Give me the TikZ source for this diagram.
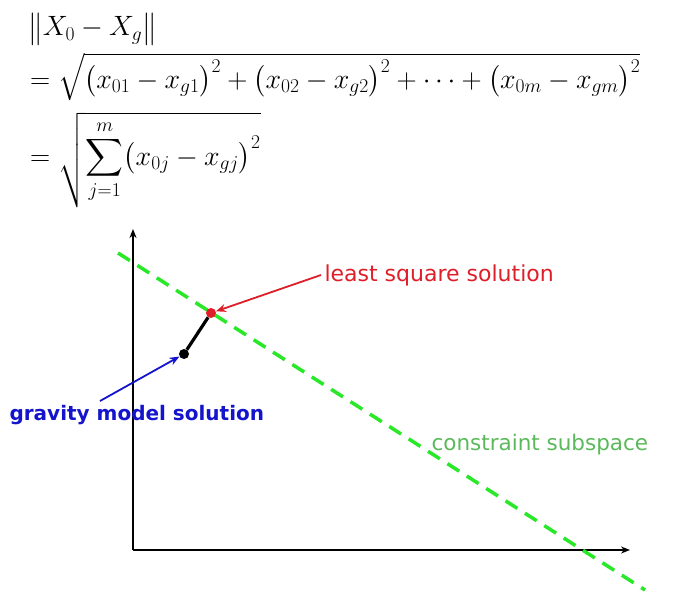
\RequirePackage{fix-cm}
\documentclass[tikz,border=0pt]{standalone}
\usepackage{amsmath}
\usepackage{fontspec}
\setmainfont{DejaVu Sans}
\usepackage{tikz}
\usetikzlibrary{
  arrows.meta,
  positioning,
  calc
}
\usepackage{xcolor}
\definecolor{lsqred}{RGB}{222,30,40}
\definecolor{gravblue}{RGB}{20,20,205}
\definecolor{subgreen}{RGB}{40,232,40}
\definecolor{labgreen}{RGB}{90,185,90}

\tikzset{
  axis/.style={line width=1.5pt, -{Stealth[length=9pt,width=7pt]}},
  soldot/.style={circle, inner sep=0pt, minimum size=10pt},
  callout/.style={line width=1.8pt, -{Stealth[length=10pt,width=8pt]}},
  eqline/.style={anchor=west, inner sep=0pt, font=\fontsize{26.5}{31}\selectfont}
}

\begin{document}
\begin{tikzpicture}[x=1pt, y=-1pt]
  \useasboundingbox (0,0) rectangle (678,597);
  % distance formula
  \node[eqline] (eqnorm) at (28,29) {\scalebox{1.055}{$\bigl\|X_0-X_g\bigr\|$}};
  \node[eqline] (eqexpand) at (30,77)
    {\scalebox{1.055}{$=\sqrt{\bigl(x_{01}-x_{g1}\bigr)^2+\bigl(x_{02}-x_{g2}\bigr)^2+\cdots+\bigl(x_{0m}-x_{gm}\bigr)^2}$}};
  \node[eqline] (eqsum) at (30,160)
    {\scalebox{1.055}{$=\sqrt{\displaystyle\sum_{j=1}^{m}\bigl(x_{0j}-x_{gj}\bigr)^2}$}};

  % axes
  \coordinate (origin) at (133,550);
  \coordinate (ytip) at (133,229);
  \coordinate (xtip) at (630,550);
  \draw[axis] (origin) -- (ytip);
  \draw[axis] (origin) -- (xtip);

  % constraint subspace
  \coordinate (subA) at (118,253);
  \coordinate (subB) at (645,590);
  \draw[subgreen, line width=3.5pt, dash pattern=on 14pt off 9pt] (subA) -- (subB);

  % solutions
  \node[soldot, fill=black] (gms) at (184,354) {};
  \node[soldot, fill=lsqred] (lss) at (211,313) {};
  \draw[line width=3.2pt] (gms) -- (lss);

  % labels
  \node[anchor=west, text=lsqred, font=\fontsize{22}{26}\selectfont] (lsslabel) at (321,275) {least square solution};
  \node[anchor=west, text=gravblue, font=\fontsize{20}{24}\selectfont\bfseries] (gmslabel) at (6,415) {gravity model solution};
  \node[anchor=west, text=labgreen, font=\fontsize{21.5}{25}\selectfont] (sublabel) at (428,445) {constraint subspace};

  \coordinate (gmsstart) at (100,401);
  \draw[callout, lsqred] (lsslabel.west) -- (lss);
  \draw[callout, gravblue] (gmsstart) -- (gms);
\end{tikzpicture}
\end{document}
